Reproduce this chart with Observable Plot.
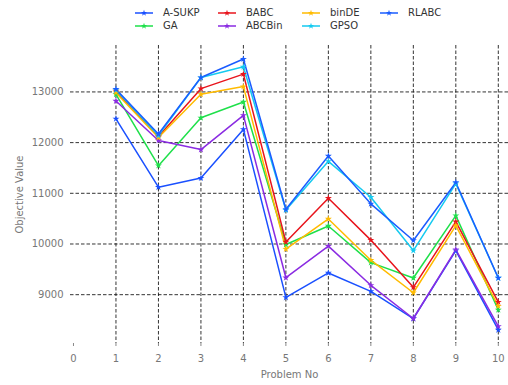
<!DOCTYPE html>
<html>
<head>
<meta charset="utf-8">
<script src="https://cdn.jsdelivr.net/npm/d3@7"></script>
<script src="https://cdn.jsdelivr.net/npm/@observablehq/plot@0.6"></script>
<style>
  body { margin: 0; background: #fff; font-family: "DejaVu Sans", sans-serif; }
  #legend { position: relative; width: 508px; height: 33px; }
  .item { position: absolute; display: flex; align-items: center; font-size: 10px; color: #333; }
  .item svg { margin-right: 10px; }
</style>
</head>
<body>
<div id="legend"></div>
<div id="chart"></div>
<script>
const problems = [1, 2, 3, 4, 5, 6, 7, 8, 9, 10];
const seriesNames = ["A-SUKP", "GA", "BABC", "ABCBin", "binDE", "GPSO", "RLABC"];
const seriesColors = ["#1a50ff", "#1ee04a", "#e8141c", "#8a2be2", "#ffbb00", "#14caf0", "#1a5cff"];
const aSukp  = [12470, 11121, 11300, 12260, 8946, 9429, 9065, 8530, 9871, 8304];
const ga     = [12954, 11546, 12490, 12802, 9990, 10355, 9633, 9329, 10560, 8700];
const babc   = [13020, 12120, 13065, 13351, 10040, 10903, 10077, 9145, 10440, 8853];
const abcBin = [12821, 12042, 11863, 12537, 9335, 9958, 9185, 8530, 9891, 8377];
const binDE  = [12986, 12100, 12954, 13105, 9899, 10494, 9680, 9038, 10361, 8774];
const gpso   = [13040, 12140, 13284, 13496, 10670, 11631, 10923, 9871, 11190, 9329];
const rlabc  = [13054, 12170, 13284, 13649, 10685, 11736, 10792, 10070, 11214, 9329];
const yTicks = [9000, 10000, 11000, 12000, 13000];
const xTicks = [0, 1, 2, 3, 4, 5, 6, 7, 8, 9, 10];

const allValues = [aSukp, ga, babc, abcBin, binDE, gpso, rlabc];
const data = [];
seriesNames.forEach((name, i) => {
  problems.forEach((p, j) => data.push({series: name, problem: p, value: allValues[i][j]}));
});

// Legend
const legend = document.getElementById("legend");
const colX = [135, 218, 302, 380];
const rowY = [6, 19];
seriesNames.forEach((name, i) => {
  const col = Math.floor(i / 2), row = i % 2;
  const div = document.createElement("div");
  div.className = "item";
  div.style.left = colX[col] + "px";
  div.style.top = rowY[row] + "px";
  div.style.height = "13px";
  const c = seriesColors[i];
  const star = d3.symbol(d3.symbolStar, 12)();
  div.innerHTML = `<svg width="18" height="10"><line x1="0" y1="5" x2="18" y2="5" stroke="${c}" stroke-width="1.5"/><path transform="translate(9,5)" d="${star}" fill="${c}"/></svg><span>${name}</span>`;
  legend.appendChild(div);
});

const chart = Plot.plot({
  width: 508,
  height: 352,
  marginLeft: 70,
  marginRight: 0,
  marginTop: 12,
  marginBottom: 42,
  style: { fontFamily: "DejaVu Sans, sans-serif", fontSize: "10px", color: "#777", background: "#fff" },
  x: { domain: [-0.07, 10.24] },
  y: { domain: [8037, 13916] },
  color: { domain: seriesNames, range: seriesColors },
  marks: [
    Plot.ruleY(yTicks, { stroke: "#111", strokeDasharray: "3.5,2", strokeWidth: 1, strokeOpacity: 0.85 }),
    Plot.ruleX(problems, { stroke: "#111", strokeDasharray: "3.5,2", strokeWidth: 1, strokeOpacity: 0.85, y1: 13916, y2: 8037 }),
    Plot.axisX({ ticks: xTicks, tickFormat: d => String(d), tickSize: 3, tickPadding: 8, stroke: "#888", label: "Problem No", labelAnchor: "center", labelOffset: 34, labelArrow: "none" }),
    Plot.axisY({ ticks: yTicks, tickFormat: d => String(d), tickSize: 0, tickPadding: 7, label: "Objective Value", labelAnchor: "center", labelOffset: 55, labelArrow: "none" }),
    Plot.line(data, { x: "problem", y: "value", z: "series", stroke: "series", strokeWidth: 1.5 }),
    Plot.dot(data, { x: "problem", y: "value", fill: "series", symbol: "star", r: 2.2 })
  ]
});
document.getElementById("chart").appendChild(chart);
</script>
</body>
</html>
